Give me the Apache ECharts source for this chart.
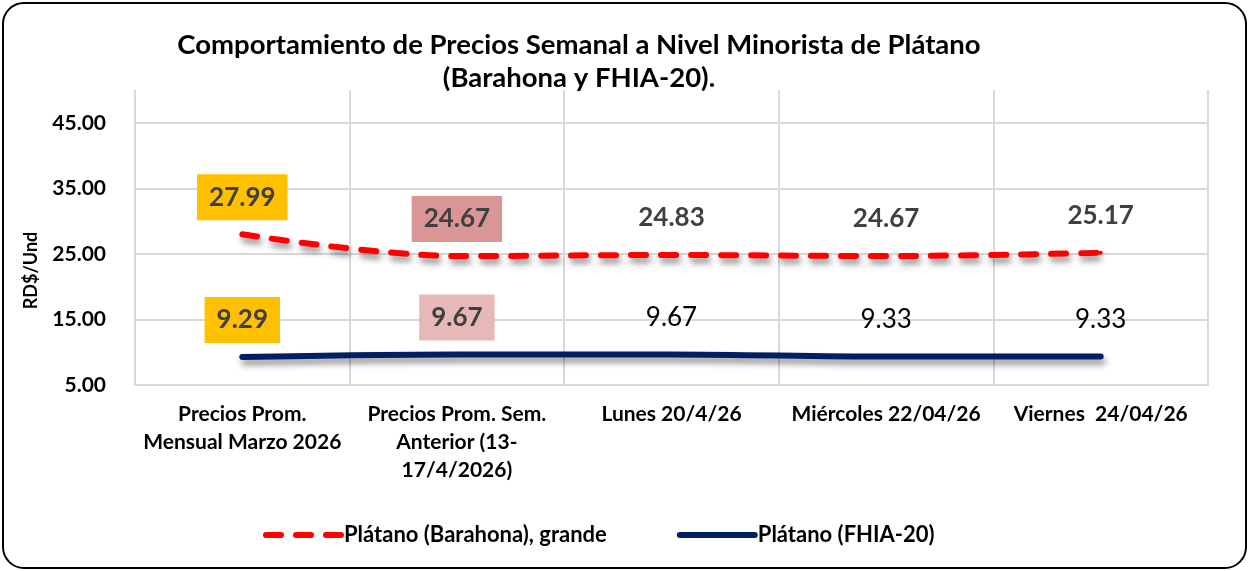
<!DOCTYPE html>
<html>
<head>
<meta charset="utf-8">
<script src="https://cdn.jsdelivr.net/npm/echarts@6/dist/echarts.min.js"></script>
<style>
  html, body { margin: 0; padding: 0; background: #fff; }
  #wrap {
    position: absolute; left: 2px; top: 2px; width: 1241px; height: 563px;
    border: 2px solid #000; border-radius: 22px; overflow: hidden; background: #fff;
  }
  #main { position: absolute; left: -2px; top: -2px; width: 1249px; height: 571px; }
</style>
</head>
<body>
<div id="wrap"><div id="main"></div></div>
<script>
var categories = [
    'Precios Prom.\nMensual Marzo 2026',
    'Precios Prom. Sem.\nAnterior (13-\n17/4/2026)',
    'Lunes 20/4/26',
    'Miércoles 22/04/26',
    'Viernes  24/04/26'
];
var barahona = [27.99, 24.67, 24.83, 24.67, 25.17];
var fhia = [9.29, 9.67, 9.67, 9.33, 9.33];
var yTicks = [5, 15, 25, 35, 45];

var FONT = 'Lato';
// highlighted label boxes for the first two points
var boxBarahona = ['#FFC000', '#D99694'];
var boxFhia = ['#FFC000', '#E6B8B7'];

function buildData(values, boxes, plainStyle) {
    return values.map(function (v, i) {
        var item = { value: v };
        if (i < boxes.length) {
            item.label = { show: true, backgroundColor: boxes[i], fontWeight: 'bold', color: '#404040' };
        } else {
            item.label = plainStyle;
        }
        return item;
    });
}

var chart = echarts.init(document.getElementById('main'));
chart.setOption({
    animation: false,
    textStyle: { fontFamily: FONT },
    title: {
        text: 'Comportamiento de Precios Semanal a Nivel Minorista de Plátano\n(Barahona y FHIA-20).',
        left: 572, top: 22, textAlign: 'center',
        textStyle: { fontFamily: FONT, fontSize: 27.5, fontWeight: 'bold', color: '#000', lineHeight: 33 }
    },
    legend: {
        bottom: 22, left: 256,
        itemWidth: 75, itemHeight: 14, itemGap: 70,
        itemStyle: { opacity: 0 },
        lineStyle: { width: 6 },
        textStyle: { fontFamily: FONT, fontSize: 22, fontWeight: 'bold', color: '#000', padding: [0, 0, 0, -2] },
        data: ['Plátano (Barahona), grande', 'Plátano (FHIA-20)']
    },
    grid: { left: 133, right: 43, top: 88, bottom: 188 },
    xAxis: {
        type: 'category',
        data: categories,
        axisLine: { show: true, lineStyle: { color: '#d9d9d9', width: 2 } },
        axisTick: { show: false },
        splitLine: { show: true, lineStyle: { color: '#d9d9d9', width: 2 } },
        axisLabel: {
            interval: 0, margin: 15, lineHeight: 28,
            fontFamily: FONT, fontSize: 21, fontWeight: 'bold', color: '#000'
        }
    },
    yAxis: {
        type: 'value',
        min: yTicks[0], max: 50, interval: 10,
        name: 'RD$/Und',
        nameLocation: 'middle', nameGap: 95, nameRotate: 90,
        nameTextStyle: { fontFamily: FONT, fontSize: 18, fontWeight: 'bold', color: '#000', padding: [0, 66, 0, 0] },
        axisLine: { show: false },
        axisTick: { show: false },
        splitLine: {
            show: true,
            lineStyle: { color: ['#d9d9d9', '#d9d9d9', '#d9d9d9', '#d9d9d9', '#d9d9d9', 'rgba(0,0,0,0)'], width: 2 }
        },
        axisLabel: {
            margin: 29, showMaxLabel: false,
            fontFamily: FONT, fontSize: 21, fontWeight: 'bold', color: '#000',
            formatter: function (v) { return v.toFixed(2); }
        }
    },
    series: [
        {
            name: 'Plátano (Barahona), grande',
            type: 'line',
            smooth: 0.35,
            symbol: 'circle',
            symbolSize: 4,
            showSymbol: true,
            data: buildData(barahona, boxBarahona, { show: true, color: '#404040', fontWeight: 700 }),
            itemStyle: { color: '#FF0000' },
            lineStyle: {
                color: '#FF0000', width: 6, type: [15, 15], cap: 'round',
                shadowColor: 'rgba(0,0,0,0.45)', shadowBlur: 6, shadowOffsetX: 2, shadowOffsetY: 5
            },
            label: {
                show: true, position: 'top', distance: 12,
                padding: [10, 12], fontSize: 26, fontFamily: FONT, fontWeight: 'bold', color: '#404040',
                formatter: function (p) { return p.value.toFixed(2); }
            },
            z: 3
        },
        {
            name: 'Plátano (FHIA-20)',
            type: 'line',
            smooth: 0.35,
            symbol: 'circle',
            symbolSize: 4,
            showSymbol: true,
            data: buildData(fhia, boxFhia, { show: true, color: '#000', fontWeight: 'normal' }),
            itemStyle: { color: '#002060' },
            lineStyle: {
                color: '#002060', width: 6, cap: 'round',
                shadowColor: 'rgba(0,0,0,0.45)', shadowBlur: 6, shadowOffsetX: 2, shadowOffsetY: 5
            },
            label: {
                show: true, position: 'top', distance: 12,
                padding: [10, 12], fontSize: 26, fontFamily: FONT,
                formatter: function (p) { return p.value.toFixed(2); }
            },
            z: 2
        }
    ]
});
</script>
</body>
</html>
